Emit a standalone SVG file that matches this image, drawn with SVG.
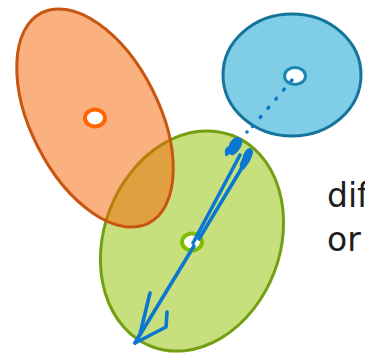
<svg xmlns="http://www.w3.org/2000/svg" width="365" height="359" viewBox="0 0 365 359">
<style>
.txt{font-family:"DejaVu Sans","Open Sans",sans-serif;font-size:33px;fill:#1e1e1e}
.arr{fill:none;stroke:#0A78D0;stroke-width:3.6;stroke-linecap:round;stroke-linejoin:round}
.head{fill:#0A78D0}
.dot{fill:none;stroke:#0A78D0;stroke-width:3.5;stroke-linecap:round;stroke-dasharray:1 11}
</style>
<rect width="365" height="359" fill="#ffffff"/>
<g id="green">
<ellipse cx="192" cy="241" rx="88" ry="113" transform="rotate(21 192 241)" fill="#C8DF7E" stroke="#72A012" stroke-width="3"/>
</g>
<g id="orange">
<ellipse cx="95" cy="118" rx="64" ry="118" transform="rotate(-27 95 118)" fill="#F76101" fill-opacity="0.5" stroke="#C85510" stroke-width="3"/>
<ellipse cx="95" cy="118" rx="10" ry="8.5" fill="#ffffff" stroke="#FF6600" stroke-width="4"/>
</g>
<g id="blue">
<ellipse cx="292" cy="75" rx="69" ry="61" fill="#7FCDE6" stroke="#14749C" stroke-width="3"/>
<ellipse cx="295" cy="76" rx="10.5" ry="8.5" fill="#ffffff" stroke="#1A86B4" stroke-width="3"/>
</g>
<g id="green-center">
<ellipse cx="192" cy="242" rx="10" ry="8.5" fill="#ffffff" stroke="#80BC00" stroke-width="4"/>
</g>
<g id="connectors">
<path class="dot" d="M292 80 L246 134"/>
<path class="arr" d="M193 243 L240 155"/>
<path class="arr" d="M199 239 L249 156"/>
<path class="head" d="M225 154 C224 149 227 146 229 146 C229 142 233 138 237 137 C241 137 243 140 242 144 C241 148 238 152 235 154 C233 156 231 155 229 154 C227 157 225 157 225 154 Z"/>
<path class="head" d="M240 168 C239 163 242 160 243 156 C244 152 247 148 250 148 C253 149 254 152 252 156 C251 160 248 164 246 167 C244 170 241 171 240 168 Z"/>
<circle class="head" cx="247" cy="132" r="1.8"/>
<path class="arr" d="M194 246 L135 343"/>
<path class="arr" d="M150 293 L140 334 L135 343"/>
<path class="arr" d="M167 312 L166 327 L137 342"/>
</g>
<text class="txt" x="327" y="207">dif</text>
<text class="txt" x="327" y="251">or</text>
</svg>
